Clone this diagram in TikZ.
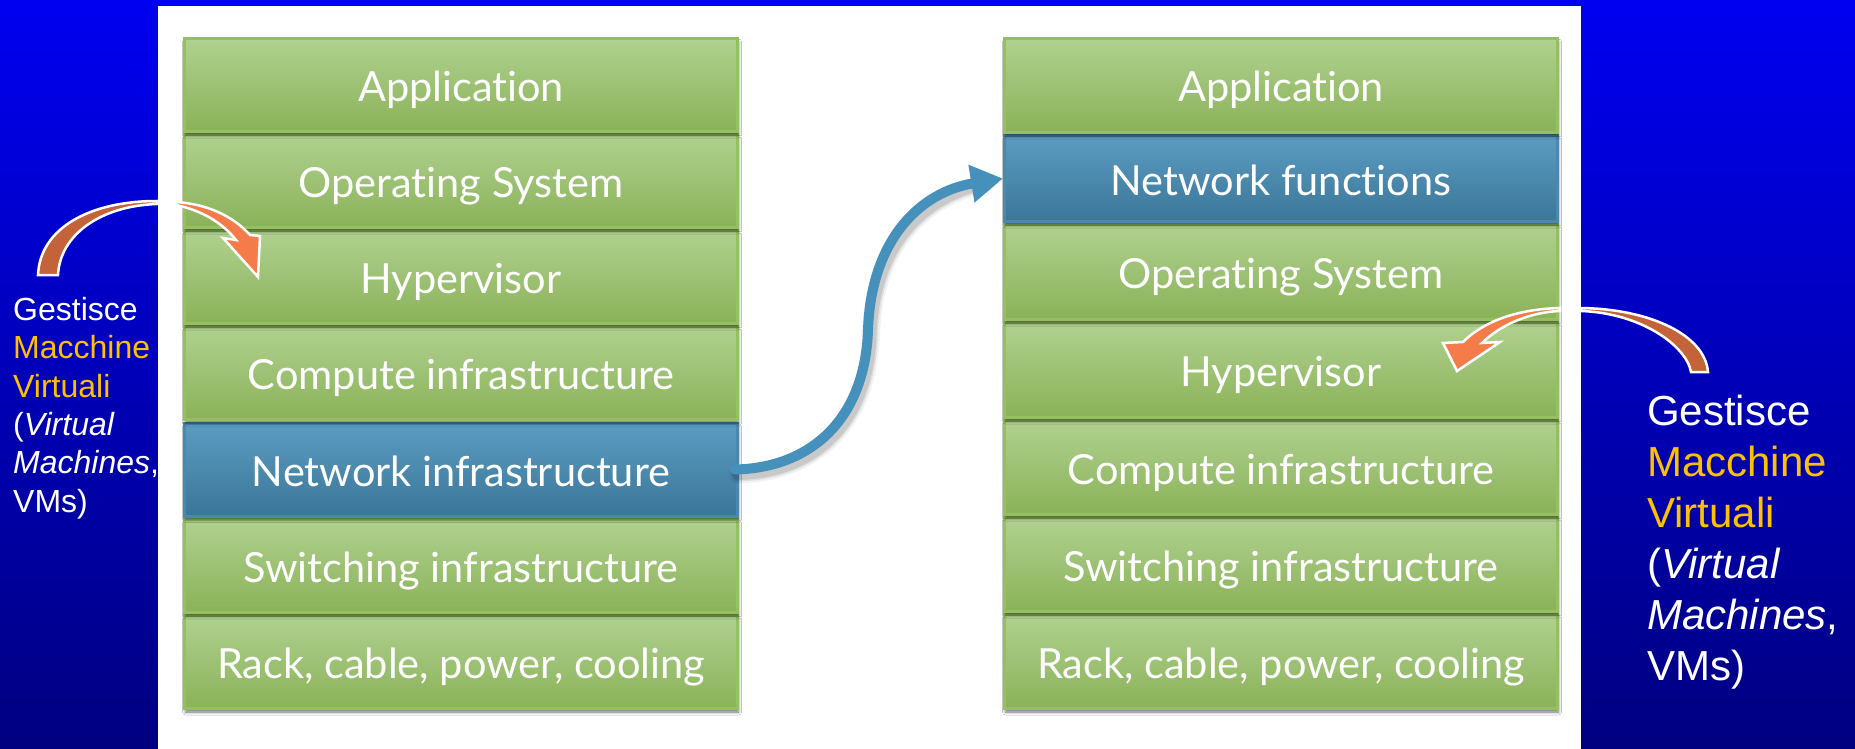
\documentclass[tikz,border=0pt]{standalone}
\usepackage{fontspec}
\setmainfont{Liberation Sans}
\newfontfamily\layerfont[Ligatures=NoCommon,RawFeature={-liga;-dlig}]{Lato}
\newfontfamily\notefont{Liberation Sans}
\usetikzlibrary{arrows.meta,shadows.blur}

\definecolor{bgtop}{RGB}{0,0,240}
\definecolor{bgbot}{RGB}{0,0,128}
\definecolor{gtop}{RGB}{176,209,144}
\definecolor{gbot}{RGB}{138,178,88}
\definecolor{gline}{RGB}{148,192,96}
\definecolor{btop}{RGB}{92,156,194}
\definecolor{bbot}{RGB}{58,118,152}
\definecolor{bline}{RGB}{74,136,174}
\definecolor{vmgold}{RGB}{255,192,0}
\definecolor{tailorange}{RGB}{196,99,58}
\definecolor{headorange}{RGB}{244,124,74}
\definecolor{linkblue}{RGB}{70,145,188}

\begin{document}
\begin{tikzpicture}[x=1pt,y=1pt,
  stackcell/.style={draw, line width=3pt, minimum width=553pt, inner sep=0pt,
    text=white, font=\layerfont\fontsize{41.5}{49}\selectfont,
    text height=42pt, text depth=9pt,
    blur shadow={shadow xshift=1pt, shadow yshift=-3.5pt,
      shadow blur radius=3pt, shadow opacity=55}},
  greencell/.style={stackcell, draw=gline, top color=gtop, bottom color=gbot},
  bluecell/.style={stackcell, draw=bline, top color=btop, bottom color=bbot},
  note/.style={anchor=base west, inner sep=0pt, align=left, text=white},
  curlarrow/.style={draw=white, line width=2.5pt, line join=miter},
  link/.style={line width=10pt, line cap=round,
    -{Triangle[length=32pt,width=36pt]}}
]
\useasboundingbox (0,0) rectangle (1855,-749);

% backdrop and white panel
\shade[top color=bgtop, bottom color=bgbot] (0,0) rectangle (1855,-749);
\fill[white] (158,-6) rectangle (1581,-749);

% left stack, drawn from the bottom up so each shadow falls on the layer below
\node[greencell, minimum height=93pt] (Lrack)   at (461,-662)   {Rack, cable, power, cooling};
\node[greencell, minimum height=93pt] (Lswitch) at (461,-566)   {Switching infrastructure};
\node[bluecell,  minimum height=93pt] (Lnet)    at (461,-469.5) {Network infrastructure};
\node[greencell, minimum height=93pt] (Lcomp)   at (461,-373)   {Compute infrastructure};
\node[greencell, minimum height=93pt] (Lhyp)    at (461,-277)   {Hypervisor};
\node[greencell, minimum height=93pt] (Los)     at (461,-181)   {Operating System};
\node[greencell, minimum height=93pt] (Lapp)    at (461,-85)    {Application};

% right stack
\node[greencell, minimum height=94pt] (Rrack)   at (1281,-661.5) {Rack, cable, power, cooling};
\node[greencell, minimum height=94pt] (Rswitch) at (1281,-564.5) {Switching infrastructure};
\node[greencell, minimum height=94pt] (Rcomp)   at (1281,-467.5) {Compute infrastructure};
\node[greencell, minimum height=95pt] (Rhyp)    at (1281,-370)   {Hypervisor};
\node[greencell, minimum height=95pt] (Ros)     at (1281,-272)   {Operating System};
\node[bluecell,  minimum height=86pt] (Rnf)     at (1281,-178.5) {Network functions};
\node[greencell, minimum height=94pt] (Rapp)    at (1281,-85.5)  {Application};

% side notes
\node[note, text width=150pt, font=\notefont\fontsize{32}{38.3}\selectfont] (Lnote) at (13,-320.5)
  {Gestisce\\\textcolor{vmgold}{Macchine}\\\textcolor{vmgold}{Virtuali}\\(\textit{Virtual}\\\textit{Machines},\\VMs)};
\node[note, text width=200pt, font=\notefont\fontsize{42}{51}\selectfont] (Rnote) at (1647,-425)
  {Gestisce\\\textcolor{vmgold}{Macchine}\\\textcolor{vmgold}{Virtuali}\\(\textit{Virtual}\\\textit{Machines},\\VMs)};

% curved arrow from the left note onto the hypervisor layer
\filldraw[curlarrow, fill=tailorange]
  (38,-275) .. controls (40,-228) and (90,-201) .. (157,-201)
  -- (157,-204) .. controls (100,-206) and (60,-235) .. (58,-275) -- cycle;
\filldraw[curlarrow, fill=headorange]
  (176,-202) .. controls (207,-204) and (233,-216) .. (250,-235)
  -- (260,-236) -- (258,-277) -- (223,-238) -- (236,-240)
  .. controls (222,-222) and (200,-210) .. (176,-205) -- cycle;

% curved arrow from the right note onto the hypervisor layer
\filldraw[curlarrow, fill=tailorange]
  (1581,-308) .. controls (1650,-309) and (1705,-335) .. (1708,-372)
  -- (1691,-372) .. controls (1686,-345) and (1640,-313) .. (1581,-311) -- cycle;
\filldraw[curlarrow, fill=headorange]
  (1560,-308) .. controls (1520,-309) and (1485,-320) .. (1463,-342)
  -- (1443,-343) -- (1457,-371) -- (1500,-342) -- (1482,-343)
  .. controls (1500,-325) and (1530,-312) .. (1560,-311) -- cycle;

% link from the network infrastructure to the network functions
\coordinate (linkbend) at (868,-330);
\foreach \w/\o in {18/0.05,14/0.07,11/0.10}{
  \draw[transform canvas={xshift=3pt,yshift=-5pt}, line width=\w pt, line cap=round,
        draw=black, opacity=\o]
    ([xshift=-4pt]Lnet.east) .. controls (810,-468) and (865,-420) .. (linkbend)
    .. controls (871,-240) and (920,-192) .. ([xshift=-20pt]Rnf.west);
}
\draw[link, draw=linkblue]
  ([xshift=-4pt]Lnet.east) .. controls (810,-468) and (865,-420) .. (linkbend)
  .. controls (871,-240) and (920,-192) .. (Rnf.west);
\end{tikzpicture}
\end{document}
